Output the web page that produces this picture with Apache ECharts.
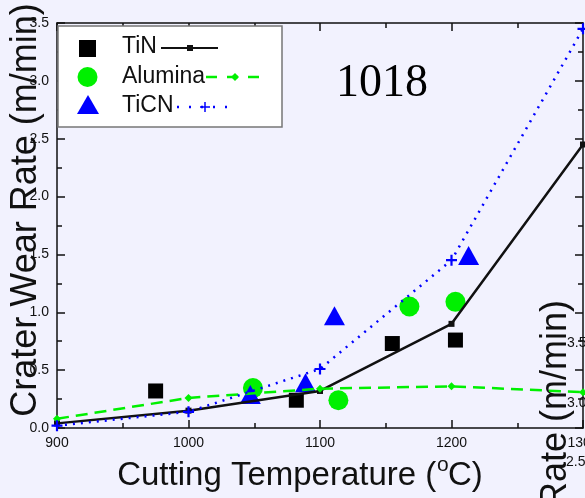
<!DOCTYPE html>
<html>
<head>
<meta charset="utf-8">
<script src="https://cdn.jsdelivr.net/npm/echarts@6/dist/echarts.min.js"></script>
<style>
  html, body { margin: 0; padding: 0; background: #f2f2fe; }
  #chart { width: 585px; height: 498px; }
</style>
</head>
<body>
<div id="chart"></div>
<script>
// fitted curves, read at the grid temperatures
const fitTemps = [900, 1000, 1100, 1200, 1300];
const tinFit = [0.04, 0.15, 0.32, 0.90, 2.45];
const aluminaFit = [0.08, 0.26, 0.34, 0.36, 0.31];
const ticnFit = [0.02, 0.14, 0.51, 1.45, 3.45];

// measured points
const tinX = [975, 1082, 1155, 1203];
const tinY = [0.32, 0.24, 0.73, 0.76];
const aluminaX = [1049, 1114, 1168, 1203];
const aluminaY = [0.345, 0.24, 1.05, 1.09];
const ticnX = [1047, 1089, 1111, 1213];
const ticnY = [0.29, 0.39, 0.97, 1.49];

const font = 'Liberation Sans, Arial, sans-serif';
const ink = '#111';
const green = '#00f000';
const blue = '#0000ff';
const plusPath = 'path://M4,0h2v4h4v2h-4v4h-2v-4h-4v-2h4z';

const pairs = (xs, ys) => xs.map((x, i) => [x, ys[i]]);

const chart = echarts.init(document.getElementById('chart'));

const tickStyle = { color: ink, width: 1.5 };
const baseX = {
  type: 'value', min: 900, max: 1300, interval: 100,
  axisLine: { onZero: false, lineStyle: { color: ink, width: 1.5 } },
  axisTick: { inside: true, length: 8, lineStyle: tickStyle },
  minorTick: { show: true, splitNumber: 2, length: 5, lineStyle: tickStyle },
  splitLine: { show: false }
};
const baseY = {
  type: 'value', min: 0, max: 3.5, interval: 0.5,
  axisLine: { onZero: false, lineStyle: { color: ink, width: 1.5 } },
  axisTick: { inside: true, length: 8, lineStyle: tickStyle },
  minorTick: { show: true, splitNumber: 2, length: 5, lineStyle: tickStyle },
  splitLine: { show: false }
};

const option = {
  backgroundColor: '#f2f2fe',
  animation: false,
  grid: { left: 57, right: 2, top: 23, bottom: 70, outerBoundsMode: 'none', containLabel: false },
  xAxis: [
    Object.assign({}, baseX, {
      position: 'bottom',
      axisLabel: { color: ink, fontSize: 14, fontFamily: font, margin: 8,
        formatter: v => String(v) }
    }),
    Object.assign({}, baseX, { position: 'top', axisLabel: { show: false } })
  ],
  yAxis: [
    Object.assign({}, baseY, {
      position: 'left',
      axisLabel: { color: ink, fontSize: 14, fontFamily: font, margin: 8,
        formatter: v => v.toFixed(1) }
    }),
    Object.assign({}, baseY, { position: 'right', axisLabel: { show: false } })
  ],
  series: [
    {
      name: 'TiN fit', type: 'line', data: pairs(fitTemps, tinFit),
      symbol: 'rect', symbolSize: 6, showAllSymbol: true,
      itemStyle: { color: ink },
      lineStyle: { color: ink, width: 2.5 }
    },
    {
      name: 'Alumina fit', type: 'line', data: pairs(fitTemps, aluminaFit),
      symbol: 'diamond', symbolSize: 8,
      itemStyle: { color: green },
      lineStyle: { color: green, width: 2.5, type: [12, 7] }
    },
    {
      name: 'TiCN fit', type: 'line', data: pairs(fitTemps, ticnFit),
      symbol: plusPath, symbolSize: 11,
      itemStyle: { color: blue },
      lineStyle: { color: blue, width: 2.5, type: [2, 6] }
    },
    {
      name: 'TiN', type: 'scatter', data: pairs(tinX, tinY),
      symbol: 'rect', symbolSize: 15, itemStyle: { color: '#000', opacity: 1 }
    },
    {
      name: 'Alumina', type: 'scatter', data: pairs(aluminaX, aluminaY),
      symbol: 'circle', symbolSize: 20, itemStyle: { color: green, opacity: 1 }
    },
    {
      name: 'TiCN', type: 'scatter', data: pairs(ticnX, ticnY),
      symbol: 'triangle', symbolSize: [21, 19], itemStyle: { color: blue, opacity: 1 }
    }
  ],
  graphic: [
    // axis titles
    {
      type: 'text', x: 26, y: 210, rotation: Math.PI / 2,
      style: { text: 'Crater Wear Rate (m/min)', font: '36px ' + font,
        fill: ink, align: 'center', verticalAlign: 'middle' }
    },
    {
      type: 'text', x: 300, y: 476,
      style: {
        // the "o" slot is kept blank here and drawn raised below
        text: '{a|Cutting Temperature (}{s|o}{a|C)}',
        align: 'center', verticalAlign: 'middle',
        rich: {
          a: { fontSize: 33, fontFamily: font, fill: ink },
          s: { fontSize: 21, fontFamily: font, fill: 'rgba(0,0,0,0)' }
        }
      }
    },
    {
      type: 'text', x: 437, y: 465,
      style: { text: 'o', font: '21px ' + font, fill: ink, verticalAlign: 'middle' }
    },
    // fragment of a neighbouring panel at the right edge
    {
      type: 'text', x: 556, y: 300, rotation: Math.PI / 2,
      style: { text: 'Crater Wear Rate (m/min)', font: '36px ' + font,
        fill: ink, align: 'right', verticalAlign: 'middle' }
    },
    { type: 'text', x: 567, y: 343, style: { text: '3.5', font: '14px ' + font, fill: ink, verticalAlign: 'middle' } },
    { type: 'text', x: 567, y: 403, style: { text: '3.0', font: '14px ' + font, fill: ink, verticalAlign: 'middle' } },
    { type: 'text', x: 566, y: 462, style: { text: '2.5', font: '14px ' + font, fill: ink, verticalAlign: 'middle' } },
    // sample label
    {
      type: 'text', x: 382, y: 84,
      style: { text: '1018', font: '46px Liberation Serif, Times New Roman, serif',
        fill: '#000', align: 'center', verticalAlign: 'middle' }
    },
    // legend box
    {
      type: 'rect', shape: { x: 58, y: 26, width: 224, height: 101 },
      style: { fill: '#fff', stroke: '#777', lineWidth: 1.5 }, z: 10
    },
    { type: 'rect', shape: { x: 79, y: 40, width: 17, height: 17 }, style: { fill: '#000' }, z: 11 },
    { type: 'circle', shape: { cx: 87.5, cy: 77, r: 10 }, style: { fill: green }, z: 11 },
    { type: 'polygon', shape: { points: [[88, 95], [99, 114], [77, 114]] }, style: { fill: blue }, z: 11 },
    { type: 'text', x: 122, y: 47, style: { text: 'TiN', font: '23px ' + font, fill: ink, verticalAlign: 'middle' }, z: 11 },
    { type: 'text', x: 122, y: 77, style: { text: 'Alumina', font: '23px ' + font, fill: ink, verticalAlign: 'middle' }, z: 11 },
    { type: 'text', x: 122, y: 106, style: { text: 'TiCN', font: '23px ' + font, fill: ink, verticalAlign: 'middle' }, z: 11 },
    { type: 'line', shape: { x1: 161, y1: 48, x2: 218, y2: 48 }, style: { stroke: ink, lineWidth: 2 }, z: 11 },
    { type: 'rect', shape: { x: 187, y: 45, width: 6, height: 6 }, style: { fill: ink }, z: 12 },
    { type: 'line', shape: { x1: 206, y1: 77, x2: 264, y2: 77 }, style: { stroke: green, lineWidth: 2.5, lineDash: [11, 10] }, z: 11 },
    { type: 'polygon', shape: { points: [[235, 73], [239, 77], [235, 81], [231, 77]] }, style: { fill: green }, z: 12 },
    { type: 'line', shape: { x1: 177, y1: 107, x2: 228, y2: 107 }, style: { stroke: blue, lineWidth: 2.5, lineDash: [2, 10] }, z: 11 },
    { type: 'line', shape: { x1: 200, y1: 107, x2: 210, y2: 107 }, style: { stroke: blue, lineWidth: 1.5 }, z: 12 },
    { type: 'line', shape: { x1: 205, y1: 102, x2: 205, y2: 112 }, style: { stroke: blue, lineWidth: 1.5 }, z: 12 }
  ]
};

chart.setOption(option);
</script>
</body>
</html>
